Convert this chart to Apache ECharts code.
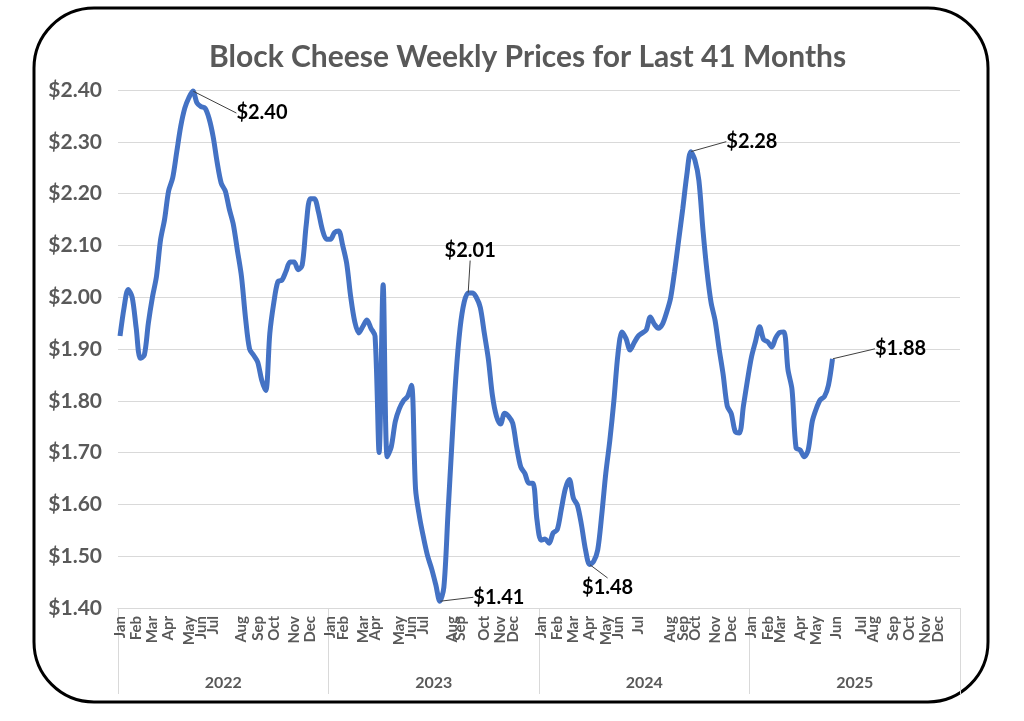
<!DOCTYPE html>
<html>
<head>
<meta charset="utf-8">
<script src="https://cdn.jsdelivr.net/npm/echarts@6/dist/echarts.min.js"></script>
<style>
html, body { margin: 0; padding: 0; background: #fff; }
#main { width: 1024px; height: 721px; }
</style>
</head>
<body>
<div id="main"></div>
<script>
// weekly block cheese price, Jan 2022 .. Jun 2025
var prices = [
	1.925, 1.98, 2.015, 2.000, 1.94, 1.882, 1.888, 1.95, 2.00, 2.04,
	2.11, 2.15, 2.205, 2.23, 2.28, 2.33, 2.365, 2.385, 2.398, 2.375,
	2.368, 2.365, 2.345, 2.31, 2.26, 2.22, 2.205, 2.17, 2.14, 2.09,
	2.04, 1.96, 1.90, 1.888, 1.875, 1.84, 1.82, 1.93, 1.99, 2.03,
	2.033, 2.05, 2.068, 2.068, 2.053, 2.062, 2.14, 2.19, 2.19, 2.165,
	2.13, 2.112, 2.112, 2.125, 2.128, 2.10, 2.065, 2.00, 1.952, 1.931,
	1.944, 1.956, 1.94, 1.925, 1.70, 2.024, 1.692, 1.711, 1.76, 1.785,
	1.80, 1.808, 1.830, 1.63, 1.575, 1.535, 1.50, 1.475, 1.445, 1.413,
	1.44, 1.58, 1.72, 1.85, 1.94, 1.99, 2.008, 2.008, 2.00, 1.98,
	1.93, 1.88, 1.81, 1.77, 1.755, 1.776, 1.77, 1.757, 1.71, 1.672,
	1.66, 1.641, 1.641, 1.57, 1.531, 1.533, 1.525, 1.545, 1.551, 1.59,
	1.63, 1.648, 1.612, 1.598, 1.56, 1.512, 1.484, 1.49, 1.512, 1.58,
	1.66, 1.724, 1.80, 1.89, 1.933, 1.92, 1.898, 1.912, 1.925, 1.931,
	1.937, 1.962, 1.948, 1.940, 1.948, 1.97, 1.998, 2.05, 2.11, 2.17,
	2.235, 2.281, 2.265, 2.225, 2.13, 2.05, 1.99, 1.955, 1.90, 1.85,
	1.79, 1.775, 1.74, 1.738, 1.79, 1.84, 1.885, 1.915, 1.943, 1.918,
	1.914, 1.904, 1.922, 1.932, 1.933, 1.86, 1.822, 1.709, 1.705, 1.692,
	1.705, 1.76, 1.785, 1.802, 1.808, 1.83, 1.881
];

var weekCount = 208; // 4 years of weeks on the axis
var years = ['2022', '2023', '2024', '2025'];
var monthNames = ['Jan', 'Feb', 'Mar', 'Apr', 'May', 'Jun', 'Jul', 'Aug', 'Sep', 'Oct', 'Nov', 'Dec'];
// week index where each month label sits
var monthWeeks = [
	[0, 4, 8, 12, 17, 20, 23, 30, 34, 38, 43, 47],
	[52, 55, 60, 63, 69, 72, 75, 82, 84, 90, 94, 97],
	[104, 108, 112, 116, 120, 123, 128, 136, 139, 142, 147, 151],
	[156, 160, 163, 168, 172, 177, 183, 186, 191, 195, 199, 202]
];
// weeks with a value label, and where the label goes
var labelWeeks = [18, 86, 79, 116, 141, 176];
var labelPos = ['right', 'top', 'right', 'bottom', 'right', 'right'];
var labelShift = [[38, 22], [2, -27], [28, -4], [18, 8], [30, -10], [37, -10]];

var weekLabels = {};
for (var y = 0; y < monthWeeks.length; y++) {
	for (var m = 0; m < 12; m++) {
		weekLabels[monthWeeks[y][m]] = monthNames[m];
	}
}
var weeks = [];
for (var i = 0; i < weekCount; i++) {
	weeks.push(String(i));
}

var seriesData = prices.map(function(v, i) {
	var k = labelWeeks.indexOf(i);
	if (k < 0) {
		return v;
	}
	return {
		value: v,
		label: {
			show: true,
			position: labelPos[k],
			distance: 5
		}
	};
});

var gray = '#595959';
var font = 'Lato, "Open Sans", sans-serif';

var myChart = echarts.init(document.getElementById('main'));
var option = {
	animation: false,
	backgroundColor: '#fff',
	title: {
		text: 'Block Cheese Weekly Prices for Last 41 Months',
		left: 204,
		top: 37,
		textStyle: {
			fontFamily: font,
			fontWeight: 'bold',
			fontSize: 30,
			color: gray
		}
	},
	graphic: [{
		type: 'rect',
		shape: { x: 34, y: 8, width: 954, height: 694, r: 60 },
		style: { fill: 'none', stroke: '#000', lineWidth: 3 },
		silent: true
	}],
	grid: {
		left: 118,
		right: 64,
		top: 90,
		bottom: 113
	},
	xAxis: [{
		type: 'category',
		data: weeks,
		boundaryGap: true,
		axisLine: { lineStyle: { color: '#d9d9d9' } },
		axisTick: { show: false },
		axisLabel: {
			interval: 0,
			rotate: 90,
			hideOverlap: false,
			margin: 8,
			fontFamily: font,
			fontWeight: 'bold',
			fontSize: 15,
			color: gray,
			formatter: function(val, idx) {
				return weekLabels[idx] || '';
			}
		}
	}, {
		type: 'category',
		data: years,
		position: 'bottom',
		boundaryGap: true,
		axisLine: { lineStyle: { color: '#d9d9d9' } },
		axisTick: { show: true, length: 86, lineStyle: { color: '#d9d9d9' } },
		axisLabel: {
			margin: 67,
			fontFamily: font,
			fontWeight: 'bold',
			fontSize: 16,
			color: gray
		}
	}],
	yAxis: {
		type: 'value',
		min: 1.4,
		max: 2.4,
		interval: 0.1,
		axisLine: { show: false },
		axisTick: { show: false },
		splitLine: { lineStyle: { color: '#d9d9d9', width: 1 } },
		axisLabel: {
			margin: 16,
			fontFamily: font,
			fontWeight: 'bold',
			fontSize: 21,
			color: gray,
			formatter: function(v) {
				return '$' + v.toFixed(2);
			}
		}
	},
	series: [{
		type: 'line',
		xAxisIndex: 0,
		data: seriesData,
		smooth: 0.3,
		symbol: 'circle',
		symbolSize: 1,
		showSymbol: true,
		showAllSymbol: true,
		itemStyle: { color: 'rgba(0,0,0,0)', borderWidth: 0 },
		lineStyle: { color: '#4472c4', width: 5 },
		label: {
			show: false,
			fontFamily: font,
			fontWeight: 'bold',
			fontSize: 20,
			color: '#000',
			formatter: function(p) {
				return '$' + p.value.toFixed(2);
			}
		},
		labelLine: {
			show: true,
			lineStyle: { color: '#404040', width: 1 }
		},
		labelLayout: function(params) {
			var k = labelWeeks.indexOf(params.dataIndex);
			if (k < 0) {
				return {};
			}
			return { dx: labelShift[k][0], dy: labelShift[k][1] };
		}
	}]
};
myChart.setOption(option);
</script>
</body>
</html>
